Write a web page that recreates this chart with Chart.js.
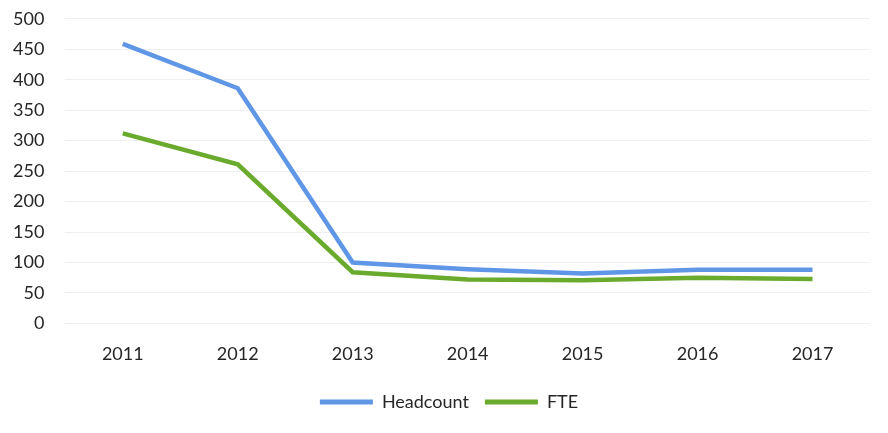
<!DOCTYPE html>
<html>
<head>
<meta charset="utf-8">
<script src="https://cdn.jsdelivr.net/npm/chart.js@4"></script>
<style>
html,body{margin:0;padding:0;background:#fff;overflow:hidden;}
#wrap{position:relative;width:888px;height:433px;overflow:hidden;}
#c{position:absolute;left:-8px;top:-13px;}
</style>
</head>
<body>
<div id="wrap"><canvas id="c" width="896" height="446"></canvas></div>
<script>
const categories = ['2011','2012','2013','2014','2015','2016','2017'];
const headcount = [459, 386, 100, 89, 82, 88, 88];
const fte = [312, 261, 84, 72, 71, 75, 73];
const seriesNames = ['Headcount', 'FTE'];

const FONT = 'Lato, "Open Sans", sans-serif';
Chart.defaults.font.family = FONT;
Chart.defaults.color = '#262626';

const legendShift = {
  id: 'legendShift',
  afterLayout(chart) {
    if (chart.legend) { chart.legend.left += 18; chart.legend.right += 18; }
  }
};

new Chart(document.getElementById('c'), {
  type: 'line',
  data: {
    labels: categories,
    datasets: [
      {label: seriesNames[0], data: headcount, borderColor: '#5f97e6', backgroundColor: '#5f97e6', borderWidth: 4.5, pointRadius: 0, tension: 0, fill: false},
      {label: seriesNames[1], data: fte, borderColor: '#6aab2e', backgroundColor: '#6aab2e', borderWidth: 4.5, pointRadius: 0, tension: 0, fill: false}
    ]
  },
  plugins: [legendShift],
  options: {
    responsive: false,
    animation: false,
    layout: {padding: {top: 0, right: 18, left: 0, bottom: 12}},
    plugins: {
      legend: {
        position: 'bottom',
        labels: {
          font: {size: 18},
          boxWidth: 53,
          boxHeight: 5,
          padding: 16,
          generateLabels(chart) {
            return chart.data.datasets.map((d, i) => ({
              text: d.label, fillStyle: d.borderColor, strokeStyle: d.borderColor,
              lineWidth: 0, hidden: false, datasetIndex: i, fontColor: '#262626'
            }));
          }
        }
      },
      tooltip: {enabled: false}
    },
    scales: {
      x: {
        offset: true,
        grid: {display: false},
        border: {display: false},
        ticks: {font: {size: 18}, padding: 12, color: '#262626'}
      },
      y: {
        min: 0, max: 500,
        ticks: {stepSize: 50, font: {size: 18}, padding: 21, color: '#262626'},
        grid: {color: '#f0f0f0', lineWidth: 1, drawTicks: false},
        border: {display: false}
      }
    }
  }
});
</script>
</body>
</html>
